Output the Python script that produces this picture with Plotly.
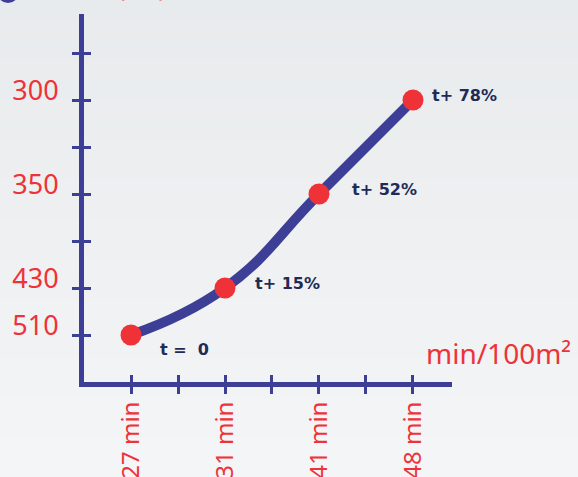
import plotly.graph_objects as go

# ---- data ----
x_categories = ["27 min", "gap1", "31 min", "gap2", "41 min", "gap3", "48 min"]
x_ticktext = ["27 min", "", "31 min", "", "41 min", "", "48 min"]
y_categories = ["510", "430", "gap1", "350", "gap2", "300", "gap3"]
y_ticktext = ["510", "430", "", "350", "", "300", ""]

times = ["27 min", "31 min", "41 min", "48 min"]
costs = ["510", "430", "350", "300"]
point_labels = ["t =  0", "t+ 15%", "t+ 52%", "t+ 78%"]

title_text = "Coût (m²)"
x_title = "min/100m²"

# ---- styles ----
RED = "#ee3238"
BLUE = "#3d3f96"
NAVY = "#1f2b56"
FONT = "Noto Sans, Liberation Sans, sans-serif"
BOLDFONT = "DejaVu Sans, sans-serif"
label_offsets = [(27, -14), (28, 5), (31, 5), (17, 5)]

fig = go.Figure()

# background vertical gradient
N = 24
top_rgb, bot_rgb = (232, 235, 237), (244, 245, 246)
for i in range(N):
    f = i / (N - 1)
    col = tuple(round(a + (b - a) * f) for a, b in zip(top_rgb, bot_rgb))
    fig.add_shape(type="rect", xref="paper", yref="paper", layer="below",
                  x0=-0.3, x1=1.4, y0=1.04 - (i + 1) * 1.3 / N - 0.001,
                  y1=1.04 - i * 1.3 / N,
                  fillcolor="rgb(%d,%d,%d)" % col, line=dict(width=0))

# helper traces so both axis pairs know every category
for xa, ya in (("x", "y"), ("x2", "y2")):
    fig.add_trace(go.Scatter(x=x_categories, y=y_categories, mode="markers",
                             marker=dict(opacity=0), hoverinfo="skip",
                             showlegend=False, xaxis=xa, yaxis=ya))

fig.add_trace(go.Scatter(
    x=times, y=costs, mode="lines",
    line=dict(shape="spline", smoothing=1.3, color=BLUE, width=10),
    showlegend=False, hoverinfo="skip"))
fig.add_trace(go.Scatter(
    x=times, y=costs, mode="markers",
    marker=dict(size=21, color=RED), showlegend=False, hoverinfo="skip"))

for t, c, lab, (dx, dy) in zip(times, costs, point_labels, label_offsets):
    fig.add_annotation(x=x_categories.index(t), y=y_categories.index(c),
                       xref="x", yref="y", text=lab.replace(" ", "\u00a0"),
                       showarrow=False, xanchor="left", yanchor="middle",
                       xshift=dx, yshift=dy,
                       font=dict(family=BOLDFONT, size=16, color=NAVY, weight="bold"))

fig.add_annotation(x=1, y=0, xref="paper", yref="paper", text=x_title,
                   showarrow=False, xanchor="left", yanchor="middle",
                   xshift=-28, yshift=29, font=dict(family=FONT, size=28, color=RED))
fig.add_annotation(x=0, y=1, xref="paper", yref="paper", text=title_text,
                   showarrow=False, xanchor="left", yanchor="bottom",
                   xshift=-33, yshift=8, font=dict(family=FONT, size=26, color=RED))

fig.add_shape(type="circle", xref="paper", yref="paper", xsizemode="pixel",
              ysizemode="pixel", xanchor=0, yanchor=1,
              x0=-87, x1=-65, y0=11, y1=33, fillcolor=BLUE, line=dict(width=0))

common_x = dict(type="category", categoryorder="array", categoryarray=x_categories,
                range=[-1, 6.83], showgrid=False, zeroline=False, ticklen=7,
                tickwidth=2.5, tickcolor=BLUE, tickmode="array",
                tickvals=x_categories, fixedrange=True, automargin=False)
common_y = dict(type="category", categoryorder="array", categoryarray=y_categories,
                range=[-1, 6.83], showgrid=False, zeroline=False, ticklen=7,
                tickwidth=2.5, tickcolor=BLUE, tickmode="array",
                tickvals=y_categories, fixedrange=True, automargin=False)

fig.update_layout(
    width=578, height=477, autosize=False,
    margin=dict(l=84, r=126, t=14, b=95, pad=0),
    paper_bgcolor="#eef0f1", plot_bgcolor="rgba(0,0,0,0)",
    xaxis=dict(**common_x, showline=True, linewidth=5, linecolor=BLUE,
               ticks="outside", ticktext=x_ticktext, tickangle=-90,
               ticklabelstandoff=-2,
               tickfont=dict(family=FONT, size=24, color=RED)),
    yaxis=dict(**common_y, showline=True, linewidth=5, linecolor=BLUE,
               ticks="outside", ticktext=y_ticktext, ticklabelshift=-9,
               ticklabelstandoff=8,
               tickfont=dict(family=FONT, size=27, color=RED)),
    xaxis2=dict(**common_x, overlaying="x", anchor="y2", side="bottom",
                ticks="inside", showticklabels=False, showline=False),
    yaxis2=dict(**common_y, overlaying="y", anchor="x2", side="left",
                ticks="inside", showticklabels=False, showline=False),
)

fig.write_html("out.html", config={"displayModeBar": False},
               post_script="document.body.style.margin='0';")
